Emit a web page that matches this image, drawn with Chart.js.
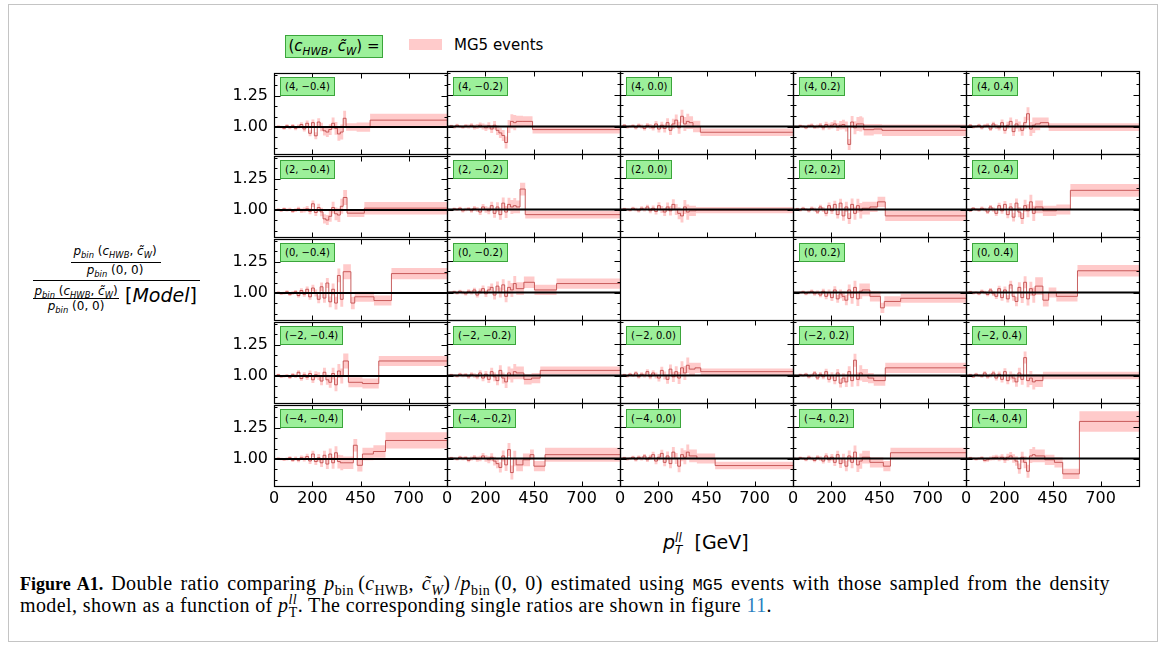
<!DOCTYPE html>
<html>
<head>
<meta charset="utf-8">
<script src="https://cdn.jsdelivr.net/npm/chart.js@4/dist/chart.umd.min.js"></script>
<style>
  body { margin: 0; width: 1167px; height: 648px; background: #fff; position: relative; overflow: hidden; font-family: 'DejaVu Sans', sans-serif; color: #000; }
  #frame { position: absolute; left: 8px; top: 4px; width: 1150px; height: 638px; border: 1.5px solid #c4c4c4; box-sizing: border-box; }
  canvas.panel { position: absolute; }
  .tag { position: absolute; height: 17px; line-height: 17px; padding: 0 4px; font-size: 10px; background: #9cf09a; border: 1px solid #3ba53b; white-space: nowrap; }
  .abs { position: absolute; white-space: nowrap; }
  .it { font-style: italic; }
  sub, sup { font-size: 0.7em; line-height: 0; }
  .bar { position: absolute; height: 1px; background: #000; }
  #caption { font-family: 'Liberation Serif', serif; font-size: 20px; line-height: 24px; letter-spacing: 0.4px; }
  #caption b { font-size: 18px; letter-spacing: 0; }
  #caption code { font-family: 'Liberation Mono', monospace; font-size: 17px; letter-spacing: 0; }
</style>
</head>
<body>
<div id="frame"></div>

<!-- legend -->
<div class="abs" style="left:285px; top:35px; width:98px; height:23px; background:#9cf09a; border:1px solid #3ba53b; box-sizing:border-box; font-size:15px; line-height:21px; text-align:center;">(<span class="it">c<sub>HWB</sub></span>, <span class="it">c̃<sub>W</sub></span>) =</div>
<div class="abs" style="left:409px; top:39px; width:33px; height:11px; background:rgba(255,160,160,0.55);"></div>
<div class="abs" style="left:454px; top:35px; font-size:15px; line-height:20px;">MG5 events</div>

<!-- y axis label -->
<div class="abs" style="left:60px; top:244px; width:110px; text-align:center; font-size:12px;"><span class="it">p<sub>bin</sub></span> (<span class="it">c<sub>HWB</sub></span>, <span class="it">c̃<sub>W</sub></span>)</div>
<div class="bar" style="left:71px; top:262px; width:90px;"></div>
<div class="abs" style="left:60px; top:263px; width:110px; text-align:center; font-size:12px;"><span class="it">p<sub>bin</sub></span> (0, 0)</div>
<div class="bar" style="left:33px; top:280px; width:167px; height:1.3px;"></div>
<div class="abs" style="left:30px; top:284px; width:92px; text-align:center; font-size:12px;"><span class="it">p<sub>bin</sub></span> (<span class="it">c<sub>HWB</sub></span>, <span class="it">c̃<sub>W</sub></span>)</div>
<div class="bar" style="left:33px; top:298px; width:86px;"></div>
<div class="abs" style="left:30px; top:299px; width:92px; text-align:center; font-size:12px;"><span class="it">p<sub>bin</sub></span> (0, 0)</div>
<div class="abs" style="left:125px; top:284px; font-size:19px;">[<span class="it">Model</span>]</div>

<!-- x axis label -->
<div class="abs" style="left:663px; top:531px; font-size:19px;"><span class="it">p</span><span style="display:inline-block; vertical-align:-5px; font-size:12px; line-height:12px;"><span class="it" style="display:block;">ll</span><span class="it" style="display:block;">T</span></span>&nbsp; [GeV]</div>

<!-- caption -->
<div id="caption">
  <div class="abs" style="left:20px; top:571px; width:1090px; text-align:justify; text-align-last:justify;"><b>Figure A1.</b> Double ratio comparing <span class="it">p</span><sub>bin</sub>&thinsp;(<span class="it">c</span><sub>HWB</sub>, <span class="it">c̃<sub>W</sub></span>)&thinsp;/<span class="it">p</span><sub>bin</sub>&thinsp;(0, 0) estimated using <code>MG5</code> events with those sampled from the density</div>
  <div class="abs" style="left:20px; top:593px;">model, shown as a function of <span class="it">p</span><sup class="it">ll</sup><sub style="margin-left:-0.6em">T</sub>. The corresponding single ratios are shown in figure <span style="color:#2a7fc0;">11</span>.</div>
</div>

<script>
// shared low-pT binning (GeV) and its statistical uncertainty
var fineEdges = [0, 15, 30, 45, 60, 75, 90, 105, 120, 135, 150, 165, 180, 195, 210, 225, 240, 255, 270, 285, 300, 315, 330, 345, 360];
var fineErr = [0.008, 0.009, 0.01, 0.011, 0.012, 0.013, 0.014, 0.015, 0.016, 0.018, 0.02, 0.022, 0.024, 0.026, 0.028, 0.031, 0.034, 0.037, 0.04, 0.043, 0.047, 0.051, 0.055, 0.06];

var xMajor = [0, 200, 450, 700];
var yMajor = [1.0, 1.25];
var yMinor = [0.8333, 0.9167, 1.0833, 1.1667, 1.3333, 1.4167];

// double ratios per panel: fine bins, then tail bins (tail edges start at 360 GeV)
// cHWB = 4
var v_4_m04 = [1.00, 1.005, 1.00, 0.99, 1.01, 0.995, 1.01, 0.99, 1.005, 1.02, 0.985, 1.03, 0.95, 1.035, 0.93, 1.04, 1.00, 0.97, 0.96, 0.98, 1.03, 0.99, 0.945, 0.96, 1.07, 1.00, 1.00, 1.055];
var t_4_m04 = [360, 375, 430, 500, 900];
var e_4_m04 = [0.06, 0.03, 0.037, 0.05];
var v_4_m02 = [1.00, 1.005, 0.995, 1.01, 1.00, 0.995, 1.005, 1.00, 1.01, 0.995, 1.00, 1.01, 1.00, 0.99, 1.005, 0.98, 1.01, 0.97, 0.95, 0.93, 0.875, 1.00, 1.04, 1.03, 1.04, 1.04, 0.976];
var t_4_m02 = [360, 395, 445, 900];
var e_4_m02 = [0.045, 0.04, 0.03];
var v_4_p00 = [1.00, 1.01, 0.995, 1.00, 1.005, 0.99, 1.01, 1.00, 0.985, 1.01, 1.00, 0.99, 1.02, 0.98, 1.01, 0.985, 1.03, 0.97, 1.02, 1.05, 0.99, 1.08, 1.02, 1.04, 1.03, 1.00, 0.955];
var t_4_p00 = [360, 380, 418, 900];
var e_4_p00 = [0.05, 0.045, 0.03];
var v_4_p02 = [1.00, 0.995, 1.005, 1.00, 0.99, 1.005, 1.01, 0.995, 1.00, 1.01, 0.99, 1.015, 1.00, 1.01, 1.02, 0.995, 1.01, 1.015, 1.00, 0.86, 1.035, 0.99, 1.02, 1.02, 1.02, 0.975, 0.98, 0.97];
var t_4_p02 = [360, 368, 420, 463, 900];
var e_4_p02 = [0.05, 0.045, 0.04, 0.045];
var v_4_p04 = [1.00, 1.01, 0.995, 1.00, 1.01, 0.99, 1.005, 1.01, 0.98, 1.02, 1.00, 0.99, 1.03, 0.97, 1.01, 1.04, 0.96, 1.02, 1.00, 0.97, 1.03, 1.10, 0.98, 1.01, 1.02, 1.03, 0.995];
var t_4_p04 = [360, 386, 430, 900];
var e_4_p04 = [0.05, 0.04, 0.03];
// cHWB = 2
var v_2_m04 = [1.00, 1.005, 0.995, 1.01, 1.00, 1.005, 0.99, 1.00, 1.01, 0.995, 1.00, 1.01, 0.99, 1.05, 0.98, 1.02, 0.985, 0.93, 0.92, 0.95, 1.02, 0.97, 0.96, 1.03, 1.10, 0.975, 1.015];
var t_2_m04 = [360, 380, 470, 900];
var e_2_m04 = [0.06, 0.03, 0.05];
var v_2_m02 = [1.00, 0.995, 1.005, 1.00, 1.01, 0.99, 1.00, 1.005, 0.99, 1.01, 1.00, 0.98, 1.02, 1.00, 0.99, 1.03, 0.97, 1.02, 0.96, 1.05, 0.98, 1.04, 1.02, 1.03, 1.02, 1.16, 0.96];
var t_2_m02 = [360, 380, 407, 900];
var e_2_m02 = [0.05, 0.05, 0.03];
var v_2_p00 = [1.00, 1.005, 1.00, 0.995, 1.01, 1.00, 0.99, 1.01, 1.00, 1.02, 0.99, 1.01, 0.985, 1.03, 1.00, 0.98, 1.02, 0.99, 1.04, 1.00, 0.97, 0.95, 1.02, 0.98, 0.99, 0.995];
var t_2_p00 = [360, 395, 900];
var e_2_p00 = [0.04, 0.025];
var v_2_p02 = [1.00, 1.005, 0.995, 1.01, 1.00, 0.99, 1.01, 1.00, 0.98, 1.02, 1.00, 0.97, 1.03, 0.99, 1.04, 0.96, 1.05, 0.95, 1.02, 0.93, 1.04, 0.97, 1.03, 0.99, 1.01, 1.02, 1.06, 0.95];
var t_2_p02 = [360, 400, 440, 480, 900];
var e_2_p02 = [0.05, 0.04, 0.04, 0.04];
var v_2_p04 = [1.00, 0.99, 1.01, 1.00, 0.995, 1.01, 1.00, 0.98, 1.02, 1.00, 0.97, 1.03, 0.99, 1.04, 0.96, 1.02, 0.94, 1.05, 0.98, 0.93, 1.03, 0.99, 1.06, 0.97, 1.02, 0.99, 1.00, 1.15];
var t_2_p04 = [360, 400, 470, 543, 900];
var e_2_p04 = [0.05, 0.04, 0.04, 0.05];
// cHWB = 0
var v_0_m04 = [1.00, 1.005, 0.995, 1.00, 1.01, 0.99, 1.00, 1.01, 0.98, 1.02, 0.99, 1.03, 0.97, 1.04, 1.00, 0.95, 1.05, 0.96, 1.08, 0.93, 1.03, 0.92, 1.14, 0.95, 1.17, 0.92, 0.97, 0.94, 1.155];
var t_0_m04 = [360, 400, 420, 520, 611, 900];
var e_0_m04 = [0.06, 0.05, 0.04, 0.04, 0.045];
var v_0_m02 = [1.00, 1.00, 1.005, 0.995, 1.01, 1.00, 0.99, 1.01, 1.00, 1.02, 0.98, 1.01, 1.03, 0.99, 1.02, 1.04, 0.98, 1.05, 1.00, 1.06, 0.97, 1.04, 1.02, 1.07, 1.03, 1.08, 1.02, 1.07];
var t_0_m02 = [360, 400, 455, 570, 900];
var e_0_m02 = [0.05, 0.045, 0.04, 0.04];
var v_0_p02 = [1.00, 0.995, 1.00, 1.005, 0.99, 1.00, 1.01, 0.99, 1.00, 0.98, 1.01, 0.97, 1.00, 0.96, 1.02, 0.95, 0.99, 0.97, 0.94, 1.02, 0.96, 1.04, 0.95, 1.01, 1.02, 0.97, 0.88, 0.93, 0.955];
var t_0_p02 = [360, 400, 455, 475, 560, 900];
var e_0_p02 = [0.05, 0.04, 0.04, 0.04, 0.035];
var v_0_p04 = [1.00, 1.005, 0.995, 1.00, 0.99, 1.01, 1.00, 0.985, 1.02, 0.99, 0.97, 1.03, 0.96, 1.02, 0.95, 1.06, 0.97, 0.93, 1.04, 0.96, 1.08, 0.95, 1.03, 0.98, 1.05, 0.94, 1.00, 0.97, 1.17];
var t_0_p04 = [360, 400, 430, 470, 580, 900];
var e_0_p04 = [0.07, 0.05, 0.04, 0.04, 0.045];
// cHWB = -2
var v_m2_m04 = [1.00, 1.01, 0.995, 1.00, 1.005, 0.99, 1.01, 1.00, 1.03, 0.98, 1.01, 0.99, 1.02, 0.97, 1.01, 1.00, 0.96, 1.03, 0.97, 0.95, 1.02, 0.93, 1.04, 1.00, 1.12, 0.95, 0.94, 1.12];
var t_m2_m04 = [360, 387, 460, 545, 900];
var e_m2_m04 = [0.06, 0.04, 0.04, 0.04];
var v_m2_m02 = [1.00, 1.005, 1.00, 0.995, 1.01, 1.00, 1.005, 0.99, 1.01, 1.00, 0.99, 1.02, 0.98, 1.01, 0.97, 1.03, 0.99, 0.96, 1.04, 0.98, 0.95, 1.02, 1.00, 1.03, 1.02, 0.97, 0.98, 1.04];
var t_m2_m02 = [360, 400, 440, 485, 900];
var e_m2_m02 = [0.05, 0.04, 0.04, 0.03];
var v_m2_p00 = [1.00, 1.005, 0.995, 1.01, 1.00, 1.02, 0.99, 1.01, 1.00, 1.03, 0.99, 1.02, 1.00, 0.98, 1.04, 1.00, 0.97, 1.05, 0.99, 1.03, 0.98, 1.06, 1.02, 1.08, 1.05, 1.06, 1.03];
var t_m2_p00 = [360, 390, 420, 900];
var e_m2_p00 = [0.05, 0.04, 0.025];
var v_m2_p02 = [1.00, 0.995, 1.005, 1.00, 1.01, 0.99, 1.00, 1.02, 0.98, 1.01, 0.99, 1.03, 0.97, 1.00, 0.96, 1.02, 0.94, 0.98, 0.95, 1.03, 0.96, 1.12, 0.97, 1.02, 1.00, 0.98, 0.96, 1.06];
var t_m2_p02 = [360, 390, 420, 480, 900];
var e_m2_p02 = [0.05, 0.04, 0.04, 0.04];
var v_m2_p04 = [1.00, 1.005, 0.99, 1.01, 1.00, 0.995, 1.02, 0.99, 1.00, 1.02, 0.98, 1.01, 0.97, 1.03, 0.96, 1.00, 0.98, 0.95, 1.02, 0.97, 1.14, 0.96, 0.98, 0.95, 0.96, 1.00];
var t_m2_p04 = [360, 400, 900];
var e_m2_p04 = [0.05, 0.03];
// cHWB = -4
var v_m4_m04 = [1.00, 1.005, 1.00, 0.995, 1.00, 1.01, 0.99, 1.005, 0.99, 1.01, 1.00, 1.02, 0.985, 1.04, 0.98, 1.01, 0.97, 1.03, 0.96, 1.04, 0.97, 1.05, 0.98, 0.97, 0.97, 1.11, 0.95, 1.04, 1.06, 1.148];
var t_m4_m04 = [360, 413, 433, 460, 517, 580, 900];
var e_m4_m04 = [0.05, 0.05, 0.05, 0.05, 0.05, 0.065];
var v_m4_m02 = [1.00, 1.005, 1.00, 0.995, 1.01, 1.00, 1.005, 0.985, 1.00, 1.01, 0.995, 1.00, 1.02, 1.00, 0.99, 1.01, 0.98, 0.96, 0.93, 1.02, 0.95, 1.07, 0.89, 1.00, 0.95, 0.99, 1.03, 0.94, 1.03];
var t_m4_m02 = [360, 395, 432, 452, 510, 900];
var e_m4_m02 = [0.05, 0.05, 0.04, 0.04, 0.055];
var v_m4_p00 = [1.00, 1.005, 0.995, 1.00, 1.01, 0.99, 1.01, 1.00, 1.02, 0.99, 1.01, 1.03, 0.98, 1.01, 1.04, 0.97, 1.02, 0.96, 1.05, 1.00, 0.94, 1.03, 1.01, 1.05, 1.02, 1.00, 0.945];
var t_m4_p00 = [360, 400, 495, 900];
var e_m4_p00 = [0.05, 0.04, 0.03];
var v_m4_p02 = [1.00, 0.995, 1.005, 1.00, 0.99, 1.01, 1.00, 0.985, 1.01, 1.00, 0.98, 1.02, 0.99, 1.01, 0.97, 1.03, 0.96, 1.00, 0.94, 1.02, 0.97, 1.05, 0.95, 0.98, 1.01, 0.97, 0.94, 1.045];
var t_m4_p02 = [360, 400, 470, 507, 900];
var e_m4_p02 = [0.05, 0.04, 0.04, 0.04];
var v_m4_p04 = [1.00, 1.005, 1.00, 0.995, 1.00, 1.005, 0.985, 0.99, 1.00, 1.005, 1.01, 1.00, 1.01, 0.99, 1.01, 1.02, 1.00, 0.98, 0.92, 1.01, 0.97, 0.90, 1.02, 1.03, 1.02, 0.99, 0.97, 0.88, 1.29];
var t_m4_p04 = [360, 410, 460, 503, 590, 900];
var e_m4_p04 = [0.05, 0.04, 0.04, 0.04, 0.08];

var panelW = 173, panelH = 83, gridLeft = 274, gridTop = 71;

// row, col, label, values, tail edges, tail errors (centre panel is left empty)
var panels = [
  [0, 0, '(4, −0.4)', v_4_m04, t_4_m04, e_4_m04],
  [0, 1, '(4, −0.2)', v_4_m02, t_4_m02, e_4_m02],
  [0, 2, '(4, 0.0)', v_4_p00, t_4_p00, e_4_p00],
  [0, 3, '(4, 0.2)', v_4_p02, t_4_p02, e_4_p02],
  [0, 4, '(4, 0.4)', v_4_p04, t_4_p04, e_4_p04],
  [1, 0, '(2, −0.4)', v_2_m04, t_2_m04, e_2_m04],
  [1, 1, '(2, −0.2)', v_2_m02, t_2_m02, e_2_m02],
  [1, 2, '(2, 0.0)', v_2_p00, t_2_p00, e_2_p00],
  [1, 3, '(2, 0.2)', v_2_p02, t_2_p02, e_2_p02],
  [1, 4, '(2, 0.4)', v_2_p04, t_2_p04, e_2_p04],
  [2, 0, '(0, −0.4)', v_0_m04, t_0_m04, e_0_m04],
  [2, 1, '(0, −0.2)', v_0_m02, t_0_m02, e_0_m02],
  [2, 3, '(0, 0.2)', v_0_p02, t_0_p02, e_0_p02],
  [2, 4, '(0, 0.4)', v_0_p04, t_0_p04, e_0_p04],
  [3, 0, '(−2, −0.4)', v_m2_m04, t_m2_m04, e_m2_m04],
  [3, 1, '(−2, −0.2)', v_m2_m02, t_m2_m02, e_m2_m02],
  [3, 2, '(−2, 0.0)', v_m2_p00, t_m2_p00, e_m2_p00],
  [3, 3, '(−2, 0.2)', v_m2_p02, t_m2_p02, e_m2_p02],
  [3, 4, '(−2, 0.4)', v_m2_p04, t_m2_p04, e_m2_p04],
  [4, 0, '(−4, −0,4)', v_m4_m04, t_m4_m04, e_m4_m04],
  [4, 1, '(−4, −0,2)', v_m4_m02, t_m4_m02, e_m4_m02],
  [4, 2, '(−4, 0,0)', v_m4_p00, t_m4_p00, e_m4_p00],
  [4, 3, '(−4, 0,2)', v_m4_p02, t_m4_p02, e_m4_p02],
  [4, 4, '(−4, 0,4)', v_m4_p04, t_m4_p04, e_m4_p04]
];

var lineRed = 'rgba(190, 70, 70, 0.85)';
var bandPink = 'rgba(255, 150, 150, 0.5)';

// axes box with inward ticks on all four sides
var frameTicks = {
  id: 'frameTicks',
  afterDraw: function (chart) {
    var ctx = chart.ctx, a = chart.chartArea, x = chart.scales.x, y = chart.scales.y;
    var L = Math.round(a.left) + 0.5, R = Math.round(a.right) + 0.5;
    var T = Math.round(a.top) + 0.5, B = Math.round(a.bottom) + 0.5;
    ctx.save();
    ctx.strokeStyle = '#000';
    ctx.lineWidth = 1;
    ctx.beginPath();
    xMajor.forEach(function (v) {
      var px = Math.round(x.getPixelForValue(v)) + 0.5;
      ctx.moveTo(px, B); ctx.lineTo(px, B - 5);
      ctx.moveTo(px, T); ctx.lineTo(px, T + 5);
    });
    yMajor.forEach(function (v) {
      var py = Math.round(y.getPixelForValue(v)) + 0.5;
      ctx.moveTo(L, py); ctx.lineTo(L + 6, py);
      ctx.moveTo(R, py); ctx.lineTo(R - 6, py);
    });
    yMinor.forEach(function (v) {
      var py = Math.round(y.getPixelForValue(v)) + 0.5;
      ctx.moveTo(L, py); ctx.lineTo(L + 3, py);
      ctx.moveTo(R, py); ctx.lineTo(R - 3, py);
    });
    ctx.stroke();
    ctx.lineWidth = 1.2;
    ctx.strokeRect(L, T, R - L, B - T);
    ctx.restore();
  }
};

function steps(edges, vals) {
  var pts = [];
  for (var i = 0; i < vals.length; i++) {
    pts.push({x: edges[i], y: vals[i]});
  }
  pts.push({x: edges[edges.length - 1], y: vals[vals.length - 1]});
  return pts;
}

function drawPanel(p) {
  var row = p[0], col = p[1];
  var edges = fineEdges.concat(p[4].slice(1));
  var vals = p[3];
  var errs = fineErr.concat(p[5]);
  var lo = [], hi = [];
  for (var i = 0; i < vals.length; i++) {
    lo.push(vals[i] - errs[i]);
    hi.push(vals[i] + errs[i]);
  }
  // same padding on every panel so the plot boxes line up
  var padL = 44, padT = 14, padR = 3, padB = 26;
  var px = gridLeft + col * panelW, py = gridTop + row * panelH;

  var cv = document.createElement('canvas');
  cv.className = 'panel';
  cv.width = padL + panelW + padR;
  cv.height = padT + panelH + padB;
  cv.style.left = (px - padL) + 'px';
  cv.style.top = (py - padT) + 'px';
  document.body.appendChild(cv);

  var tag = document.createElement('div');
  tag.className = 'tag';
  tag.textContent = p[2];
  tag.style.left = (px + 6) + 'px';
  tag.style.top = (py + 6) + 'px';
  document.body.appendChild(tag);

  new Chart(cv, {
    type: 'line',
    data: {
      datasets: [
        {data: [{x: 0, y: 1}, {x: 900, y: 1}], borderColor: '#000', borderWidth: 2},
        {data: steps(edges, vals), borderColor: lineRed, borderWidth: 1, stepped: true},
        {data: steps(edges, lo), borderColor: 'transparent', borderWidth: 0, stepped: true},
        {data: steps(edges, hi), borderColor: 'transparent', borderWidth: 0, stepped: true, fill: 2, backgroundColor: bandPink}
      ]
    },
    options: {
      responsive: false,
      animation: false,
      devicePixelRatio: 1,
      elements: {point: {radius: 0}},
      layout: {padding: {top: padT, right: padR, left: 0, bottom: 0}},
      plugins: {legend: {display: false}, tooltip: {enabled: false}},
      scales: {
        x: {
          type: 'linear', min: 0, max: 900,
          grid: {display: false, drawTicks: false},
          border: {display: false},
          afterBuildTicks: function (s) { s.ticks = xMajor.map(function (v) { return {value: v}; }); },
          afterFit: function (s) { s.height = padB; },
          ticks: {display: row === 4, color: '#000', font: {family: 'DejaVu Sans', size: 16}, padding: 3, maxRotation: 0, autoSkip: false}
        },
        y: {
          min: 0.785, max: 1.434,
          grid: {display: false, drawTicks: false},
          border: {display: false},
          afterBuildTicks: function (s) { s.ticks = yMajor.map(function (v) { return {value: v}; }); },
          afterFit: function (s) { s.width = padL; },
          ticks: {display: col === 0, color: '#000', font: {family: 'DejaVu Sans', size: 16}, padding: 6,
            callback: function (v) { return v.toFixed(2); }}
        }
      }
    },
    plugins: [frameTicks]
  });
}

panels.forEach(drawPanel);
</script>
</body>
</html>
